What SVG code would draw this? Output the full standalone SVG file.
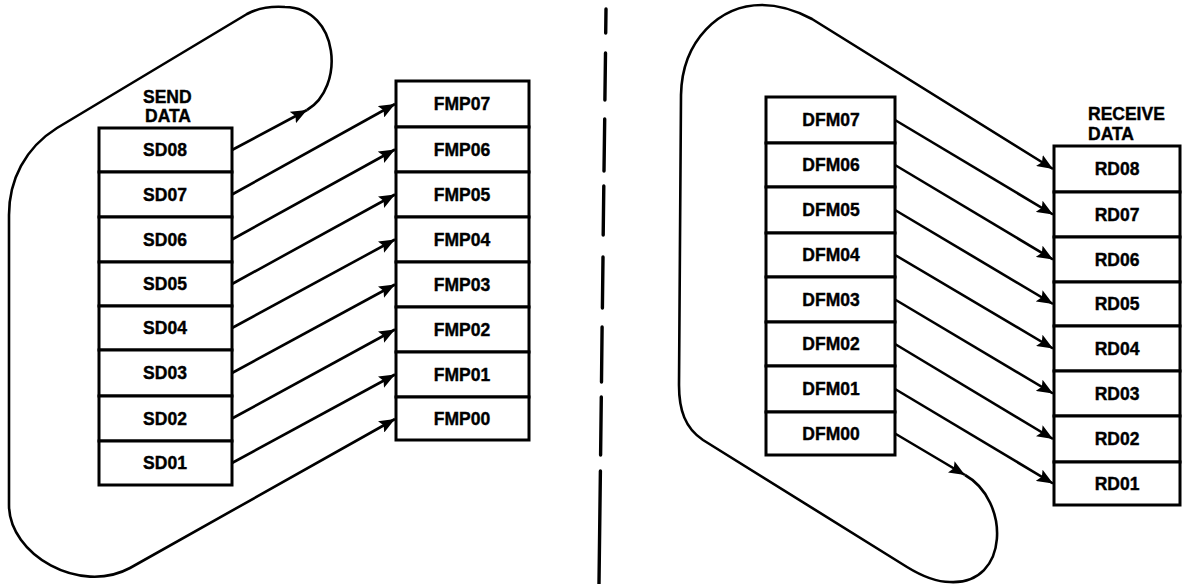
<svg xmlns="http://www.w3.org/2000/svg" width="1199" height="584" viewBox="0 0 1199 584">
<style>
.cell{fill:#fff;stroke:#000;stroke-width:3}
.lbl{font-family:"Liberation Sans",Arial,sans-serif;font-weight:bold;font-size:17.5px;fill:#000;stroke:#000;stroke-width:0.4;text-anchor:middle}
.title{font-family:"Liberation Sans",Arial,sans-serif;font-weight:bold;font-size:17.5px;fill:#000;stroke:#000;stroke-width:0.4}
.con{fill:none;stroke:#000;stroke-width:2.6;stroke-linejoin:round}
.arr{marker-end:url(#ah)}
</style>
<defs>
<marker id="ah" markerUnits="userSpaceOnUse" markerWidth="17" markerHeight="13" refX="16" refY="6.5" orient="auto">
<path d="M0,0 L16,6.5 L0,13 L3,6.5 z" fill="#000"/>
</marker>
</defs>
<rect width="1199" height="584" fill="#fff"/>

<g id="send-data">
<text class="title" x="143" y="103">SEND</text>
<text class="title" x="145" y="122">DATA</text>
<g id="sd08"><rect class="cell" x="99" y="128" width="133" height="44"/><text class="lbl" x="165" y="156">SD08</text></g>
<g id="sd07"><rect class="cell" x="99" y="172" width="133" height="45"/><text class="lbl" x="165" y="200.5">SD07</text></g>
<g id="sd06"><rect class="cell" x="99" y="217" width="133" height="45"/><text class="lbl" x="165" y="245.5">SD06</text></g>
<g id="sd05"><rect class="cell" x="99" y="262" width="133" height="44"/><text class="lbl" x="165" y="290">SD05</text></g>
<g id="sd04"><rect class="cell" x="99" y="306" width="133" height="44"/><text class="lbl" x="165" y="334">SD04</text></g>
<g id="sd03"><rect class="cell" x="99" y="350" width="133" height="46"/><text class="lbl" x="165" y="379">SD03</text></g>
<g id="sd02"><rect class="cell" x="99" y="396" width="133" height="45"/><text class="lbl" x="165" y="424.5">SD02</text></g>
<g id="sd01"><rect class="cell" x="99" y="441" width="133" height="44"/><text class="lbl" x="165" y="469">SD01</text></g>
</g>

<g id="fmp">
<g id="fmp07"><rect class="cell" x="396" y="81" width="133" height="46"/><text class="lbl" x="462" y="110">FMP07</text></g>
<g id="fmp06"><rect class="cell" x="396" y="127" width="133" height="45"/><text class="lbl" x="462" y="155.5">FMP06</text></g>
<g id="fmp05"><rect class="cell" x="396" y="172" width="133" height="45"/><text class="lbl" x="462" y="200.5">FMP05</text></g>
<g id="fmp04"><rect class="cell" x="396" y="217" width="133" height="45"/><text class="lbl" x="462" y="245.5">FMP04</text></g>
<g id="fmp03"><rect class="cell" x="396" y="262" width="133" height="45"/><text class="lbl" x="462" y="290.5">FMP03</text></g>
<g id="fmp02"><rect class="cell" x="396" y="307" width="133" height="45"/><text class="lbl" x="462" y="335.5">FMP02</text></g>
<g id="fmp01"><rect class="cell" x="396" y="352" width="133" height="45"/><text class="lbl" x="462" y="380.5">FMP01</text></g>
<g id="fmp00"><rect class="cell" x="396" y="397" width="133" height="43"/><text class="lbl" x="462" y="424.5">FMP00</text></g>
</g>

<g id="dfm">
<g id="dfm07"><rect class="cell" x="766" y="97" width="129" height="46"/><text class="lbl" x="831" y="126">DFM07</text></g>
<g id="dfm06"><rect class="cell" x="766" y="143" width="129" height="44"/><text class="lbl" x="831" y="171">DFM06</text></g>
<g id="dfm05"><rect class="cell" x="766" y="187" width="129" height="46"/><text class="lbl" x="831" y="216">DFM05</text></g>
<g id="dfm04"><rect class="cell" x="766" y="233" width="129" height="44"/><text class="lbl" x="831" y="261">DFM04</text></g>
<g id="dfm03"><rect class="cell" x="766" y="277" width="129" height="45"/><text class="lbl" x="831" y="305.5">DFM03</text></g>
<g id="dfm02"><rect class="cell" x="766" y="322" width="129" height="44"/><text class="lbl" x="831" y="350">DFM02</text></g>
<g id="dfm01"><rect class="cell" x="766" y="366" width="129" height="46"/><text class="lbl" x="831" y="395">DFM01</text></g>
<g id="dfm00"><rect class="cell" x="766" y="412" width="129" height="43"/><text class="lbl" x="831" y="439.5">DFM00</text></g>
</g>

<g id="receive-data">
<text class="title" x="1088" y="120">RECEIVE</text>
<text class="title" x="1088" y="140">DATA</text>
<g id="rd08"><rect class="cell" x="1054" y="146" width="126" height="46"/><text class="lbl" x="1117" y="175">RD08</text></g>
<g id="rd07"><rect class="cell" x="1054" y="192" width="126" height="45"/><text class="lbl" x="1117" y="220.5">RD07</text></g>
<g id="rd06"><rect class="cell" x="1054" y="237" width="126" height="45"/><text class="lbl" x="1117" y="265.5">RD06</text></g>
<g id="rd05"><rect class="cell" x="1054" y="282" width="126" height="44"/><text class="lbl" x="1117" y="310">RD05</text></g>
<g id="rd04"><rect class="cell" x="1054" y="326" width="126" height="45"/><text class="lbl" x="1117" y="354.5">RD04</text></g>
<g id="rd03"><rect class="cell" x="1054" y="371" width="126" height="45"/><text class="lbl" x="1117" y="399.5">RD03</text></g>
<g id="rd02"><rect class="cell" x="1054" y="416" width="126" height="46"/><text class="lbl" x="1117" y="445">RD02</text></g>
<g id="rd01"><rect class="cell" x="1054" y="462" width="126" height="43"/><text class="lbl" x="1117" y="489.5">RD01</text></g>
</g>

<g id="connectors">
<path class="con arr" d="M232,194.5 L395,104"/>
<path class="con arr" d="M232,239.5 L395,149.5"/>
<path class="con arr" d="M232,284 L395,194.5"/>
<path class="con arr" d="M232,328 L395,239.5"/>
<path class="con arr" d="M232,373 L395,284.5"/>
<path class="con arr" d="M232,418.5 L395,329.5"/>
<path class="con arr" d="M232,463 L395,374.5"/>
<path class="con arr" d="M232,150 L307,110"/>
<path class="con arr" d="M307,110 C345,88 340,8 285,7 C270,6 258,8 247,14 L57,128 C25,148 9,180 9,215 L9,505 C9,555 80,595 130,568 L395,419"/>

<path class="con arr" d="M895,120 L1053,214.5"/>
<path class="con arr" d="M895,165 L1053,259.5"/>
<path class="con arr" d="M895,210 L1053,304"/>
<path class="con arr" d="M895,255 L1053,348.5"/>
<path class="con arr" d="M895,299.5 L1053,393.5"/>
<path class="con arr" d="M895,344 L1053,439"/>
<path class="con arr" d="M895,389 L1053,483.5"/>
<path class="con arr" d="M895,433.5 L965,475"/>
<path class="con arr" d="M965,475 C1010,500 1010,585 950,582 C935,582 920,575 907,567 L703,440 C685,428 679,410 679,385 L681,95 C682,40 720,5 762,5 C780,5 795,10 812,19 L1053,169"/>
</g>

<g id="divider">
<path d="M606,9 L605.7,33 M605.5,53 L604.9,100 M604.7,119 L604,171 M603.8,186 L603.2,235 M603,257 L602.4,308 M602.1,327 L601.5,382 M601.3,397 L600.6,455 M600.4,471 L599,584" fill="none" stroke="#000" stroke-width="3.4" stroke-linecap="round"/>
</g>
</svg>
